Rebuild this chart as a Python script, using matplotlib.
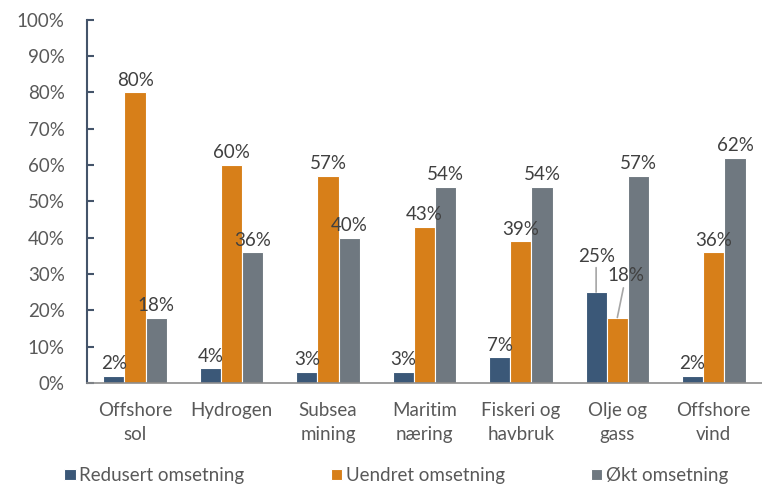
import matplotlib.pyplot as plt
import numpy as np

plt.rcParams['font.family'] = ['Lato', 'DejaVu Sans']

# survey answers per sector (%)
categories = ["Offshore\nsol", "Hydrogen", "Subsea\nmining", "Maritim\nnæring",
              "Fiskeri og\nhavbruk", "Olje og\ngass", "Offshore\nvind"]
redusert = [2, 4, 3, 3, 7, 25, 2]
uendret = [80, 60, 57, 43, 39, 18, 36]
okt = [18, 36, 40, 54, 54, 57, 62]
series_names = ["Redusert omsetning", "Uendret omsetning", "Økt omsetning"]
colors = ["#3B5878", "#D77F19", "#6F7880"]

fig = plt.figure(figsize=(7.62, 4.84), dpi=100)
ax = fig.add_axes([0.114, 0.209, 0.886, 0.75])

x = np.arange(len(categories))
w = 0.22
series = [redusert, uendret, okt]
bars = []
for i, (vals, name, c) in enumerate(zip(series, series_names, colors)):
    b = ax.bar(x + (i - 1) * w, vals, w, color=c, edgecolor="white",
               linewidth=0.8, label=name)
    bars.append(b)

# value labels; Olje og gass gets leader lines
txt = dict(ha="center", va="bottom", fontsize=13.5, color="#404040")
for i, vals in enumerate(series):
    for j, v in enumerate(vals):
        xc = x[j] + (i - 1) * w
        if j == 5 and i == 0:
            ax.annotate(f"{v}%", xy=(xc, v), xytext=(xc, v + 7.5), **txt,
                        arrowprops=dict(arrowstyle="-", color="#A6A6A6", lw=1.2,
                                        shrinkA=0, shrinkB=0))
        elif j == 5 and i == 1:
            ax.annotate(f"{v}%", xy=(xc, v), xytext=(xc + 0.09, v + 9.3), **txt,
                        arrowprops=dict(arrowstyle="-", color="#A6A6A6", lw=1.2,
                                        shrinkA=1, shrinkB=0))
        else:
            ax.text(xc, v + 1, f"{v}%", **txt)

ax.set_xlim(-0.5, len(categories) - 0.5)
ax.set_ylim(0, 100)
ax.set_yticks(np.arange(0, 101, 10))
ax.set_yticklabels([f"{t}%" for t in range(0, 101, 10)])
ax.set_xticks(x)
ax.set_xticklabels(categories, linespacing=1.5)
ax.tick_params(axis="y", direction="in", length=5, width=1.5, color="#44546A",
               labelsize=13.5, labelcolor="#595959", pad=16)
ax.tick_params(axis="x", length=0, labelsize=13.5, labelcolor="#595959", pad=14)

for s in ["top", "right"]:
    ax.spines[s].set_visible(False)
ax.spines["left"].set_color("#44546A")
ax.spines["left"].set_linewidth(1.5)
ax.spines["bottom"].set_color("#8C8C8C")
ax.spines["bottom"].set_linewidth(1.2)

fig.legend(handles=bars, labels=series_names, loc="lower center",
           bbox_to_anchor=(0.52, -0.035), ncol=3, frameon=False, fontsize=13.5,
           handlelength=0.6, handleheight=0.6, handletextpad=0.2,
           columnspacing=4.6, labelcolor="#595959")

fig.savefig("out.png", dpi=100)
